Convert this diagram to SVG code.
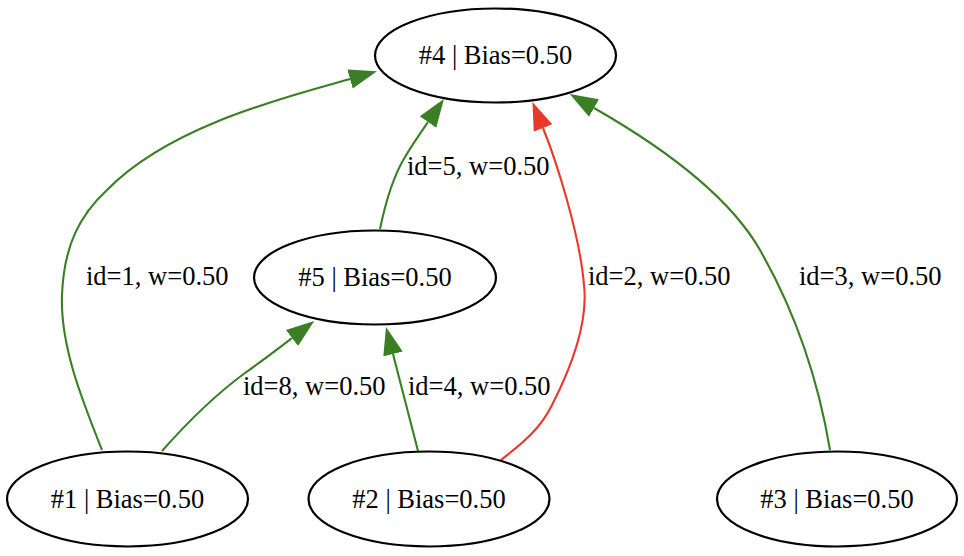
<svg xmlns="http://www.w3.org/2000/svg" width="964" height="556" viewBox="0 0 964 556">
<style>
.node ellipse{fill:#fff;stroke:#000;stroke-width:2.2}
text{font-family:"Liberation Serif","Times New Roman",serif;font-size:26.5px;fill:#000}
.node text{text-anchor:middle}
.edge{fill:none;stroke-width:2.1}
.g{stroke:#3a7f24}
.r{stroke:#e8392a}
</style>
<defs>
<marker id="ag" markerUnits="userSpaceOnUse" markerWidth="30" markerHeight="24" viewBox="0 -12 30 24" refX="0" refY="0" orient="auto"><path d="M0,-10 L28,0 L0,10 z" fill="#3a7f24"/></marker>
<marker id="ar" markerUnits="userSpaceOnUse" markerWidth="30" markerHeight="24" viewBox="0 -12 30 24" refX="0" refY="0" orient="auto"><path d="M0,-10 L28,0 L0,10 z" fill="#e8392a"/></marker>
</defs>
<rect width="964" height="556" fill="#fff"/>
<g id="edges">
<path class="edge g" marker-end="url(#ag)" d="M102,450 C82,400 60,345 62,295 C64,245 80,215 107,190 C170,125 290,96 350,79"/>
<path class="edge g" marker-end="url(#ag)" d="M162,451 C185,425 215,395 245,373 C262,361 275,351 292,338"/>
<path class="edge g" marker-end="url(#ag)" d="M380,229 C386,200 394,175 405,157 C412,145 419,135 428,122"/>
<path class="edge r" marker-end="url(#ar)" d="M501,460 C520,445 540,430 552,405 C575,360 588,320 584,285 C580,235 556,160 543,128"/>
<path class="edge g" marker-end="url(#ag)" d="M830,450 C820,390 800,320 760,250 C725,189 650,140 594,108"/>
<path class="edge g" marker-end="url(#ag)" d="M418,451 L393,354"/>
<text x="407" y="175">id=5, w=0.50</text>
<text x="86" y="285">id=1, w=0.50</text>
<text x="588" y="285">id=2, w=0.50</text>
<text x="799" y="285">id=3, w=0.50</text>
<text x="243" y="395">id=8, w=0.50</text>
<text x="408" y="395">id=4, w=0.50</text>
</g>
<g id="n4" class="node"><ellipse cx="495.5" cy="55.5" rx="120.5" ry="47"/><text x="495.5" y="64.3">#4 | Bias=0.50</text></g>
<g id="n5" class="node"><ellipse cx="375" cy="277.5" rx="121" ry="47"/><text x="375" y="286.3">#5 | Bias=0.50</text></g>
<g id="n1" class="node"><ellipse cx="127.5" cy="499" rx="120.5" ry="47.5"/><text x="127.5" y="507.8">#1 | Bias=0.50</text></g>
<g id="n2" class="node"><ellipse cx="429" cy="499" rx="120.5" ry="47.5"/><text x="429" y="507.8">#2 | Bias=0.50</text></g>
<g id="n3" class="node"><ellipse cx="837" cy="499" rx="120" ry="47.5"/><text x="837" y="507.8">#3 | Bias=0.50</text></g>
</svg>
